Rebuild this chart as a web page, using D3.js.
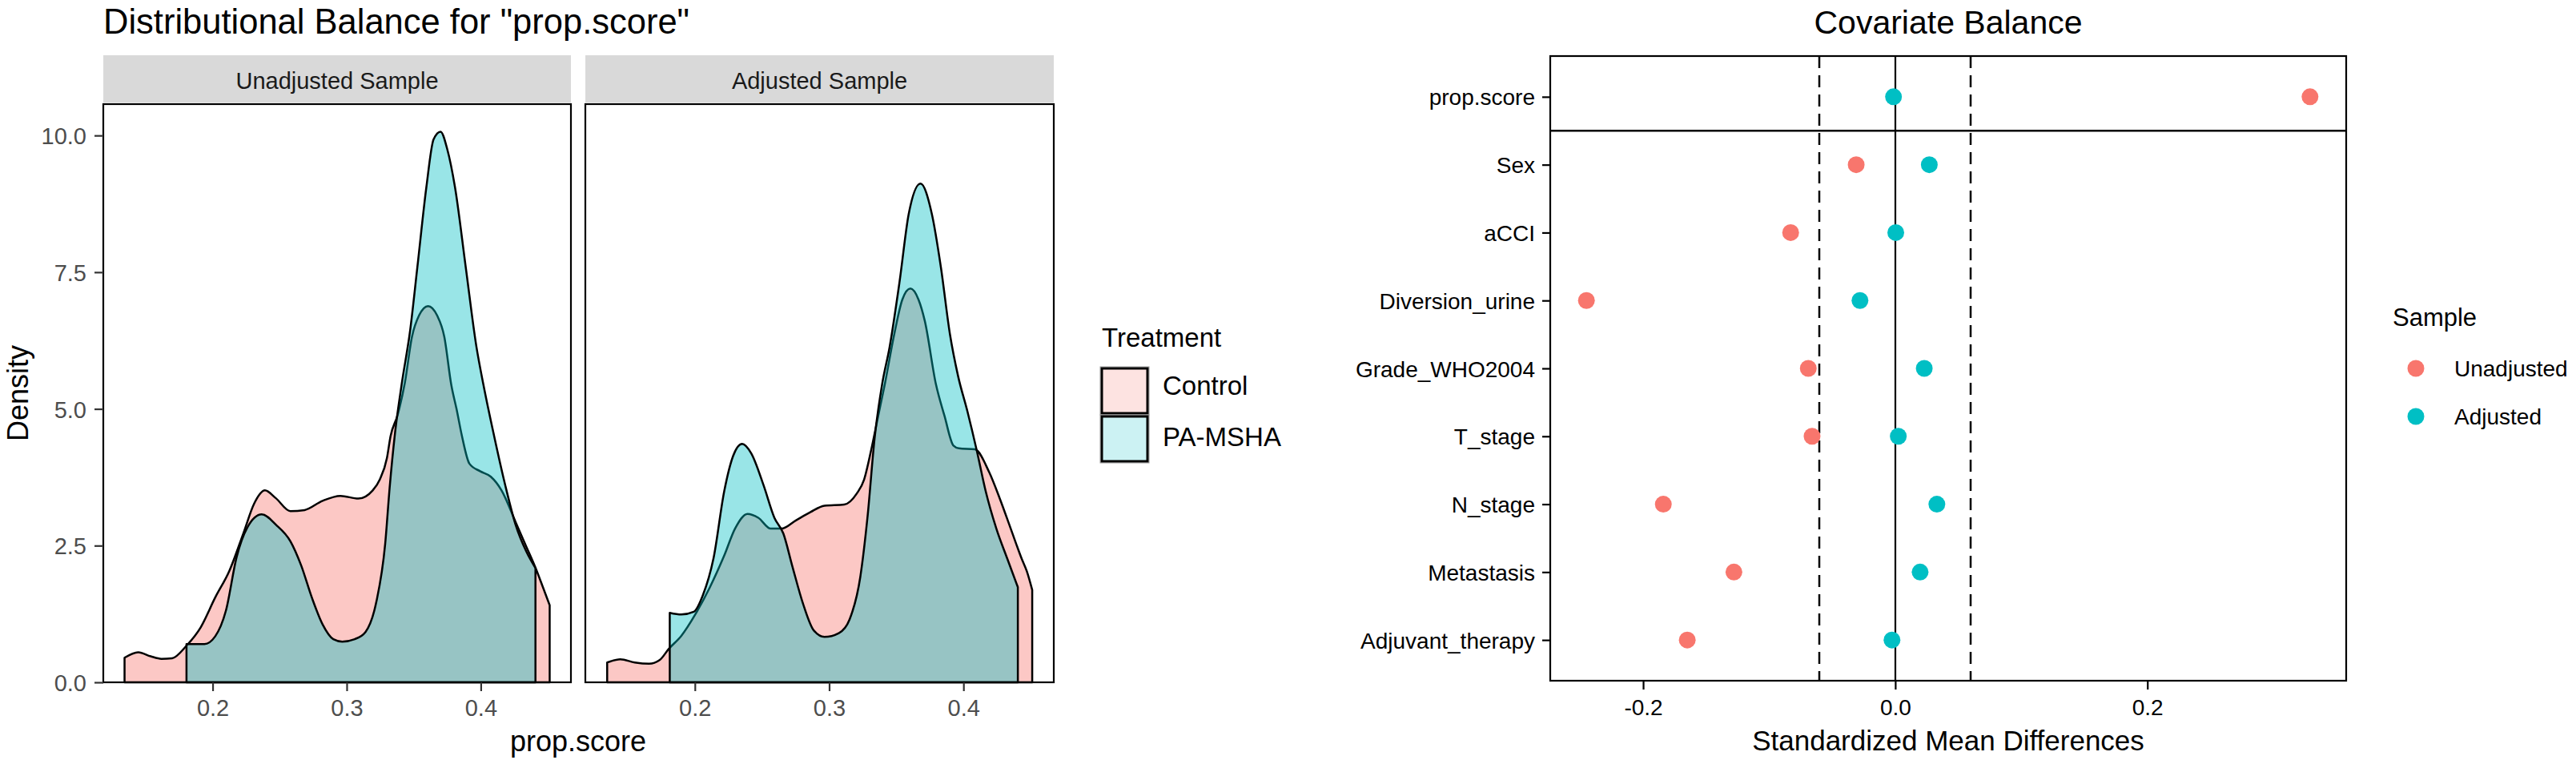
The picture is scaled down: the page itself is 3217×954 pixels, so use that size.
<!DOCTYPE html>
<html><head><meta charset="utf-8">
<script src="https://cdn.jsdelivr.net/npm/d3@7"></script>
<style>
body{margin:0;background:#fff}
text{font-family:"Liberation Sans",Arial,sans-serif}
</style>
</head><body>
<svg id="chart" width="3217" height="954" xmlns="http://www.w3.org/2000/svg"></svg>
<script>
// ---------- data: distributional balance ----------
const panelTitles = ["Unadjusted Sample", "Adjusted Sample"];
const treatmentGroups = ["Control", "PA-MSHA"];
const densityXTicks = [0.2, 0.3, 0.4];
const densityYTicks = [0, 2.5, 5, 7.5, 10];

const unadjControl = [[0.1343,0.45],[0.1445,0.55],[0.1538,0.475],[0.1618,0.43],[0.1698,0.44],[0.1805,0.67],[0.1912,1.01],[0.2019,1.55],[0.2125,2.04],[0.2230,2.73],[0.2310,3.27],[0.2390,3.51],[0.2470,3.37],[0.2580,3.13],[0.2686,3.15],[0.2820,3.32],[0.2953,3.41],[0.3087,3.36],[0.3194,3.51],[0.3247,3.71],[0.3300,4.10],[0.3327,4.50],[0.3380,4.89],[0.3434,5.48],[0.3487,6.32],[0.3540,6.71],[0.3607,6.88],[0.3674,6.71],[0.3728,6.32],[0.3780,5.44],[0.3820,4.99],[0.3860,4.50],[0.3915,4.00],[0.3995,3.86],[0.4075,3.76],[0.4155,3.51],[0.4260,2.93],[0.4340,2.48],[0.4409,2.09],[0.4462,1.75],[0.4514,1.41]];
const unadjTreated = [[0.1805,0.70],[0.1939,0.70],[0.2019,0.84],[0.2099,1.31],[0.2179,2.29],[0.2259,2.83],[0.2366,3.07],[0.2473,2.88],[0.2580,2.58],[0.2660,2.14],[0.2740,1.55],[0.2820,1.06],[0.2900,0.79],[0.2967,0.745],[0.3060,0.79],[0.3140,0.92],[0.3220,1.46],[0.3287,2.53],[0.3320,3.55],[0.3360,4.55],[0.3410,5.45],[0.3474,6.45],[0.3527,7.59],[0.3594,9.05],[0.3648,9.93],[0.3700,10.07],[0.3750,9.75],[0.3808,9.05],[0.3888,7.59],[0.3968,6.13],[0.4020,5.44],[0.4100,4.50],[0.4182,3.61],[0.4260,2.88],[0.4340,2.39],[0.4408,2.09]];
const adjControl = [[0.1347,0.363],[0.1445,0.42],[0.1552,0.363],[0.1659,0.34],[0.1739,0.41],[0.1805,0.61],[0.1899,0.85],[0.2005,1.25],[0.2112,1.74],[0.2219,2.32],[0.2299,2.81],[0.2392,3.08],[0.2472,3.01],[0.2565,2.81],[0.2645,2.81],[0.2752,2.96],[0.2859,3.11],[0.2965,3.23],[0.3112,3.25],[0.3205,3.45],[0.3259,3.70],[0.3312,4.24],[0.3365,4.87],[0.3415,5.46],[0.3485,6.37],[0.3545,7.00],[0.3605,7.20],[0.3665,7.00],[0.3712,6.61],[0.3795,5.45],[0.3859,4.87],[0.3925,4.33],[0.3965,4.28],[0.4085,4.26],[0.4192,3.84],[0.4272,3.35],[0.4352,2.81],[0.4432,2.27],[0.4472,2.03],[0.4512,1.69]];
const adjTreated = [[0.1813,1.27],[0.1899,1.24],[0.1992,1.29],[0.2059,1.59],[0.2139,2.27],[0.2219,3.50],[0.2285,4.14],[0.2352,4.36],[0.2419,4.19],[0.2512,3.60],[0.2592,3.01],[0.2659,2.72],[0.2725,2.13],[0.2805,1.44],[0.2885,0.95],[0.2965,0.83],[0.3072,0.90],[0.3152,1.15],[0.3232,1.93],[0.3285,3.01],[0.3339,4.48],[0.3395,5.46],[0.3450,6.13],[0.3525,7.34],[0.3592,8.56],[0.3680,9.12],[0.3765,8.56],[0.3832,7.59],[0.3899,6.37],[0.3960,5.60],[0.4030,4.95],[0.4099,4.24],[0.4165,3.50],[0.4245,2.81],[0.4325,2.27],[0.4405,1.74]];

// ---------- data: covariate balance ----------
const covariates = ["prop.score","Sex","aCCI","Diversion_urine","Grade_WHO2004","T_stage","N_stage","Metastasis","Adjuvant_therapy"];
const smdUnadjusted = [0.329,-0.031,-0.083,-0.245,-0.069,-0.066,-0.184,-0.128,-0.165];
const smdAdjusted = [-0.0014,0.027,0.0004,-0.028,0.023,0.0024,0.033,0.0197,-0.0026];
const sampleGroups = ["Unadjusted","Adjusted"];
const smdTicks = [-0.2, 0, 0.2];
const smdThreshold = 0.06;

const colors = ["#F8766D", "#00BFC4"];
const keyColors = ["#FDE3E1", "#CCF2F3"];
const svg = d3.select("#chart");
svg.append("rect").attr("width",3217).attr("height",954).attr("fill","#fff");

// ================= LEFT: Distributional Balance =================
const allX = [...unadjControl, ...unadjTreated, ...adjControl, ...adjTreated].map(d => d[0]);
const allY = [...unadjControl, ...unadjTreated, ...adjControl, ...adjTreated].map(d => d[1]);
const [xmin, xmax] = d3.extent(allX);
const xpad = (xmax - xmin) * 0.05;
const ymax = d3.max(allY) * 1.05;
const panels = [
  {x0:129, x1:713, title:panelTitles[0], series:[unadjControl, unadjTreated]},
  {x0:731, x1:1316, title:panelTitles[1], series:[adjControl, adjTreated]}
];
const pTop = 130, pBot = 852;
const yD = d3.scaleLinear().domain([0, ymax]).range([pBot, pTop]);

svg.append("text").attr("x",129).attr("y",42).attr("font-size",43.5).attr("fill","#000")
  .text('Distributional Balance for "prop.score"');

panels.forEach((p, i) => {
  const xD = d3.scaleLinear().domain([xmin - xpad, xmax + xpad]).range([p.x0, p.x1]);
  // strip
  svg.append("rect").attr("x",p.x0).attr("y",69).attr("width",p.x1-p.x0).attr("height",59).attr("fill","#D9D9D9");
  svg.append("text").attr("x",(p.x0+p.x1)/2).attr("y",111).attr("text-anchor","middle")
    .attr("font-size",29).attr("fill","#1A1A1A").text(p.title);
  // densities
  const area = d3.area().x(d => xD(d[0])).y0(yD(0)).y1(d => yD(d[1])).curve(d3.curveMonotoneX);
  p.series.forEach((s, k) => {
    svg.append("path").attr("d", area(s)).attr("fill", colors[k]).attr("fill-opacity",0.4)
      .attr("stroke","#000").attr("stroke-width",2.5).attr("stroke-linejoin","round");
  });
  // border
  svg.append("rect").attr("x",p.x0).attr("y",pTop).attr("width",p.x1-p.x0).attr("height",pBot-pTop)
    .attr("fill","none").attr("stroke","#000").attr("stroke-width",2.2);
  // x axis
  const ax = svg.append("g").attr("transform",`translate(0,${pBot})`)
    .call(d3.axisBottom(xD).tickValues(densityXTicks).tickSize(11).tickFormat(d => d.toFixed(1)));
  ax.select(".domain").remove();
  ax.selectAll(".tick line").attr("stroke","#333").attr("stroke-width",2.2);
  ax.selectAll(".tick text").attr("y",42).attr("dy",0).attr("font-size",29).attr("fill","#4D4D4D")
    .attr("font-family",'"Liberation Sans",Arial,sans-serif');
  if (i === 0) {
    const ay = svg.append("g").attr("transform",`translate(${p.x0},0)`)
      .call(d3.axisLeft(yD).tickValues(densityYTicks).tickSize(11).tickFormat(d => d.toFixed(1)));
    ay.select(".domain").remove();
    ay.selectAll(".tick line").attr("stroke","#333").attr("stroke-width",2.2);
    ay.selectAll(".tick text").attr("x",-21).attr("dy","0.36em").attr("font-size",29).attr("fill","#4D4D4D")
      .attr("font-family",'"Liberation Sans",Arial,sans-serif');
  }
});
svg.append("text").attr("transform","translate(35,491) rotate(-90)").attr("text-anchor","middle")
  .attr("font-size",36).attr("fill","#000").text("Density");
svg.append("text").attr("x",722).attr("y",938).attr("text-anchor","middle")
  .attr("font-size",36).attr("fill","#000").text("prop.score");

// legend left
svg.append("text").attr("x",1376).attr("y",433).attr("font-size",33).attr("fill","#000").text("Treatment");
treatmentGroups.forEach((g, k) => {
  const ky = 459 + k * 60;
  svg.append("rect").attr("x",1374).attr("y",ky-1).attr("width",61).attr("height",60)
    .attr("fill","none").attr("stroke","#999").attr("stroke-width",1);
  svg.append("rect").attr("x",1376).attr("y",ky+1).attr("width",57).attr("height",56)
    .attr("fill",keyColors[k]).attr("stroke","#000").attr("stroke-width",3);
  svg.append("text").attr("x",1452).attr("y",ky + 34 + k*4).attr("font-size",33).attr("fill","#000").text(g);
});

// ================= RIGHT: Covariate Balance =================
const rL = 1936, rR = 2930, rT = 70, rB = 850;
const allSmd = [...smdUnadjusted, ...smdAdjusted];
const [smin, smax] = d3.extent(allSmd);
const spad = (smax - smin) * 0.05;
const xS = d3.scaleLinear().domain([smin - spad, smax + spad]).range([rL, rR]);
const yS = d3.scalePoint().domain(covariates).range([rT, rB]).padding(0.6);

svg.append("text").attr("x",(rL+rR)/2).attr("y",42).attr("text-anchor","middle")
  .attr("font-size",41).attr("fill","#000").text("Covariate Balance");

// reference lines
[-smdThreshold, smdThreshold].forEach(t => {
  const xx = Math.round(xS(t));
  svg.append("line").attr("x1",xx).attr("x2",xx).attr("y1",rT).attr("y2",rB)
    .attr("stroke","#000").attr("stroke-width",2.5).attr("stroke-dasharray","15,9");
});
const x0l = Math.round(xS(0));
svg.append("line").attr("x1",x0l).attr("x2",x0l).attr("y1",rT).attr("y2",rB)
  .attr("stroke","#000").attr("stroke-width",2.2);
// separator between prop.score and covariates
const sepY = (yS(covariates[0]) + yS(covariates[1])) / 2;
svg.append("line").attr("x1",rL).attr("x2",rR).attr("y1",sepY).attr("y2",sepY)
  .attr("stroke","#000").attr("stroke-width",2.5);

// points
[smdUnadjusted, smdAdjusted].forEach((vals, k) => {
  svg.append("g").selectAll("circle").data(vals).join("circle")
    .attr("cx", d => xS(d)).attr("cy", (d, j) => yS(covariates[j])).attr("r",10.5)
    .attr("fill", colors[k]);
});

svg.append("rect").attr("x",rL).attr("y",rT).attr("width",rR-rL).attr("height",rB-rT)
  .attr("fill","none").attr("stroke","#000").attr("stroke-width",2.2);

const axR = svg.append("g").attr("transform",`translate(0,${rB})`)
  .call(d3.axisBottom(xS).tickValues(smdTicks).tickSize(11).tickFormat(d => d.toFixed(1)));
axR.select(".domain").remove();
axR.selectAll(".tick line").attr("stroke","#000").attr("stroke-width",2.2);
axR.selectAll(".tick text").attr("y",43).attr("dy",0).attr("font-size",28).attr("fill","#000")
  .attr("font-family",'"Liberation Sans",Arial,sans-serif');

const ayR = svg.append("g").attr("transform",`translate(${rL},0)`)
  .call(d3.axisLeft(yS).tickSize(10));
ayR.select(".domain").remove();
ayR.selectAll(".tick line").attr("stroke","#000").attr("stroke-width",2.2);
ayR.selectAll(".tick text").attr("x",-19).attr("dy","0.36em").attr("font-size",28).attr("fill","#000")
  .attr("font-family",'"Liberation Sans",Arial,sans-serif');

svg.append("text").attr("x",(rL+rR)/2).attr("y",937).attr("text-anchor","middle")
  .attr("font-size",35).attr("fill","#000").text("Standardized Mean Differences");

// legend right
svg.append("text").attr("x",2988).attr("y",407).attr("font-size",31).attr("fill","#000").text("Sample");
sampleGroups.forEach((g, k) => {
  svg.append("circle").attr("cx",3017).attr("cy",460 + k*60).attr("r",10.5).attr("fill",colors[k]);
  svg.append("text").attr("x",3065).attr("y",470 + k*60).attr("font-size",28).attr("fill","#000").text(g);
});
</script>
</body></html>
